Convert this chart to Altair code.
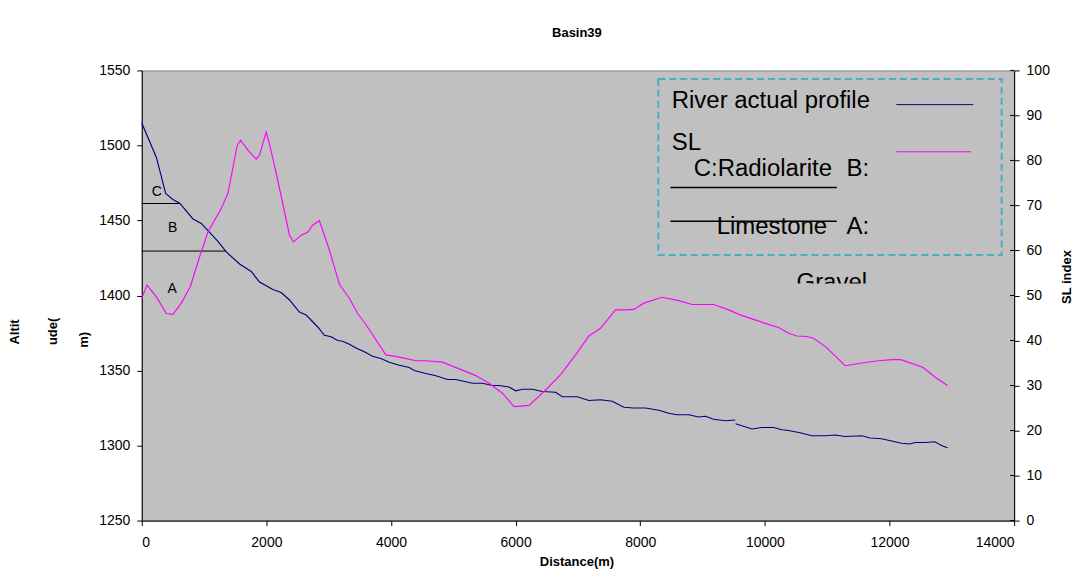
import altair as alt
import pandas as pd

# ---------------- data ----------------
river1_d = [0, 235, 384, 500, 609, 822, 956, 1089, 1223, 1356, 1570, 1757, 1890, 2104, 2237,
            2371, 2531, 2638, 2744, 2824, 2931, 3038, 3145, 3225, 3332, 3439, 3572, 3705, 3839,
            3972, 4133, 4293, 4373, 4560, 4720, 4907, 5040, 5147, 5307, 5467, 5627, 5734, 5894,
            6001, 6108, 6268, 6428, 6642, 6749, 6989, 7176, 7363, 7549, 7737, 7897, 8084, 8298,
            8458, 8591, 8778, 8938, 9045, 9178, 9365, 9525]
river1_alt = [1515, 1492, 1468, 1464, 1461.5, 1451, 1448, 1442, 1436, 1429, 1421, 1416, 1409,
              1404, 1402, 1397, 1389, 1387, 1382.5, 1379, 1373.5, 1372.5, 1370, 1369.5, 1367.5,
              1365, 1362.5, 1359.5, 1358, 1355.5, 1353.5, 1352, 1350, 1348, 1346.5, 1344, 1344,
              1343, 1341.5, 1341.5, 1340, 1340, 1339, 1336.5, 1337.5, 1337.5, 1336, 1335.5,
              1332.5, 1332.5, 1330, 1330.5, 1329.5, 1325.5, 1325, 1325, 1323.5, 1321.5, 1320.5,
              1320.5, 1319, 1319.5, 1317.5, 1316.5, 1317]
river2_d = [9530, 9793, 9953, 10140, 10273, 10380, 10567, 10754, 10968, 11128, 11288, 11555,
            11688, 11874, 12034, 12194, 12328, 12408, 12568, 12728, 12835, 12931]
river2_alt = [1314.5, 1311, 1312, 1312, 1310.5, 1310, 1308.5, 1306.5, 1306.5, 1307, 1306,
              1306.5, 1305, 1304.5, 1303, 1301.5, 1301, 1302, 1302, 1302.5, 1300, 1298.5]

sl_d = [0, 85, 235, 395, 501, 635, 780, 929, 1062, 1276, 1383, 1533, 1586, 1720, 1837, 1890,
        1997, 2050, 2183, 2371, 2435, 2558, 2665, 2744, 2851, 3011, 3172, 3332, 3465, 3599,
        3919, 4133, 4400, 4560, 4827, 5094, 5361, 5574, 5788, 5975, 6215, 6482, 6722, 6963,
        7176, 7363, 7603, 7763, 7897, 8057, 8351, 8618, 8831, 9178, 9418, 9605, 9819, 10006,
        10220, 10380, 10513, 10674, 10781, 10968, 11128, 11288, 11555, 11821, 12088, 12194,
        12541, 12728, 12931]
sl_val = [49.4, 52.3, 49.7, 46, 45.8, 48.3, 52, 58.6, 64.1, 69.3, 72.7, 83.4, 84.5, 82, 80.3,
          81.2, 86.3, 83.7, 75.6, 63.4, 61.9, 63.4, 64.1, 65.6, 66.6, 60.1, 52.5, 49.4, 46,
          43.5, 36.8, 36.3, 35.5, 35.5, 35.2, 33.7, 32.2, 30.5, 28.3, 25.3, 25.6, 29, 32.4,
          36.8, 41, 42.7, 46.8, 46.8, 46.9, 48.3, 49.6, 48.85, 48, 48, 46.8, 45.7, 44.7, 43.8,
          42.9, 41.6, 41, 40.9, 40.5, 38.7, 36.6, 34.4, 35, 35.5, 35.8, 35.7, 34, 31.9, 30]

bound_start = [0, 0]
bound_end = [609, 1356]
bound_alt = [1461.3, 1429.6]

layer_labels = ["C", "B", "A"]
layer_d = [240, 496, 488]
layer_alt = [1468.8, 1444.9, 1404.5]

x_ticks = [0, 2000, 4000, 6000, 8000, 10000, 12000, 14000]
alt_ticks = [1250, 1300, 1350, 1400, 1450, 1500, 1550]
sl_ticks = [0, 10, 20, 30, 40, 50, 60, 70, 80, 90, 100]

title_text = "Basin39"
x_title = "Distance(m)"
y_title_parts = ["Altit", "ude(", "m)"]
y2_title = "SL index"
legend_river = "River actual profile"
legend_sl = "SL"

# ---------------- styling ----------------
FONT = "Liberation Sans"
NAVY = "#000080"
MAG = "#FF00FF"
BG = "#C0C0C0"
BOX = "#4BACC6"

river_df = pd.DataFrame({
    "d": river1_d + river2_d,
    "alt": river1_alt + river2_alt,
    "seg": [1] * len(river1_d) + [2] * len(river2_d),
})
sl_df = pd.DataFrame({"d": sl_d, "sl": sl_val})
bound_df = pd.DataFrame({"d": bound_start, "d_end": bound_end, "alt": bound_alt})
lab_df = pd.DataFrame({"d": layer_d, "alt": layer_alt, "lab": layer_labels})
tick_df = pd.DataFrame({"sl": sl_ticks})
one = pd.DataFrame({"z": [0]})

x_enc = alt.X("d:Q", scale=alt.Scale(domain=[0, 14000], nice=False, zero=False),
              axis=alt.Axis(values=x_ticks, title=None, format="d", tickSize=5,
                            labelPadding=10))
y_left = alt.Y("alt:Q", scale=alt.Scale(domain=[1250, 1550], nice=False, zero=False),
               axis=alt.Axis(values=alt_ticks, title=None, format="d", tickSize=5,
                             labelPadding=7, orient="left"))
y_right = alt.Y("sl:Q", scale=alt.Scale(domain=[0, 100], nice=False, zero=False),
                axis=alt.Axis(values=sl_ticks, title=None, format="d", tickSize=5,
                              labelPadding=7, orient="right"))


def txt(s, x, y, size=24, bold=False, angle=0, align="left", baseline="alphabetic"):
    return alt.Chart(one).mark_text(
        text=s, font=FONT, fontSize=size, fontWeight="bold" if bold else "normal",
        angle=angle, align=align, baseline=baseline, color="black"
    ).encode(x=alt.value(x), y=alt.value(y))


def hline(x1, x2, y, color, width=1.0):
    return alt.Chart(one).mark_rule(color=color, strokeWidth=width).encode(
        x=alt.value(x1), x2=alt.value(x2), y=alt.value(y))


# clipped "Gravel" text (partially hidden as in the reference)
gravel = txt("Gravel", 656, 220.5)
cover = alt.Chart(one).mark_rect(color=BG).encode(
    x=alt.value(648), x2=alt.value(742), y=alt.value(213.5), y2=alt.value(230))

bounds = alt.Chart(bound_df).mark_rule(color="black", strokeWidth=1).encode(
    x=x_enc, x2="d_end:Q", y=y_left)
labels = alt.Chart(lab_df).mark_text(font=FONT, fontSize=14, color="black",
                                     baseline="middle", align="center").encode(
    x=x_enc, y=y_left, text="lab:N")
river = alt.Chart(river_df).mark_line(color=NAVY, strokeWidth=1.15).encode(
    x=x_enc, y=y_left, detail="seg:N", order="d:Q")

legend_box = alt.Chart(one).mark_rect(filled=False, stroke=BOX, strokeWidth=2,
                                      strokeDash=[7, 4]).encode(
    x=alt.value(517.5), x2=alt.value(861.5), y=alt.value(8.5), y2=alt.value(185))

annotations = [
    legend_box,
    txt(legend_river, 531, 38),
    hline(756, 833, 34.3, NAVY),
    txt(legend_sl, 531, 79.3),
    hline(756, 831, 81.5, MAG),
    txt("C:Radiolarite", 553, 106),
    txt("B:", 706, 106),
    hline(529.7, 696.3, 117.3, "black", 1.5),
    hline(529.7, 696.3, 151, "black", 1.5),
    txt("Limestone", 576, 164.3),
    txt("A:", 706, 164.3),
    txt(title_text, 436, -37, size=13, bold=True, align="center", baseline="middle"),
    txt(x_title, 436, 493, size=13, bold=True, align="center", baseline="middle"),
    txt(y2_title, 927, 207, size=13, bold=True, angle=270, align="center", baseline="middle"),
    txt(y_title_parts[0], -127, 262, size=13, bold=True, angle=270, align="center", baseline="middle"),
    txt(y_title_parts[1], -89, 261.5, size=13, bold=True, angle=270, align="center", baseline="middle"),
    txt(y_title_parts[2], -58, 270, size=13, bold=True, angle=270, align="center", baseline="middle"),
]

left_group = alt.layer(gravel, cover, bounds, labels, river, *annotations)

sl_line = alt.Chart(sl_df).mark_line(color=MAG, strokeWidth=1.15).encode(
    x=x_enc, y=y_right, order="d:Q")
inner_ticks = alt.Chart(tick_df).mark_rule(color="black", strokeWidth=1).encode(
    x=alt.value(870), x2=alt.value(874), y=y_right)
right_group = alt.layer(sl_line, inner_ticks)

chart = alt.layer(left_group, right_group).resolve_scale(y="independent").properties(
    width=874, height=451, autosize="none",
    padding={"left": 134, "top": 62, "right": 60, "bottom": 50},
    background="white",
).configure_axis(
    labelFont=FONT, labelFontSize=14, labelColor="black", domainColor="black",
    tickColor="black", grid=False, domainWidth=1, tickWidth=1,
).configure_view(
    fill=BG, stroke="#808080", strokeWidth=1,
)

chart.save("out.html", embed_options={"renderer": "svg", "actions": False})
